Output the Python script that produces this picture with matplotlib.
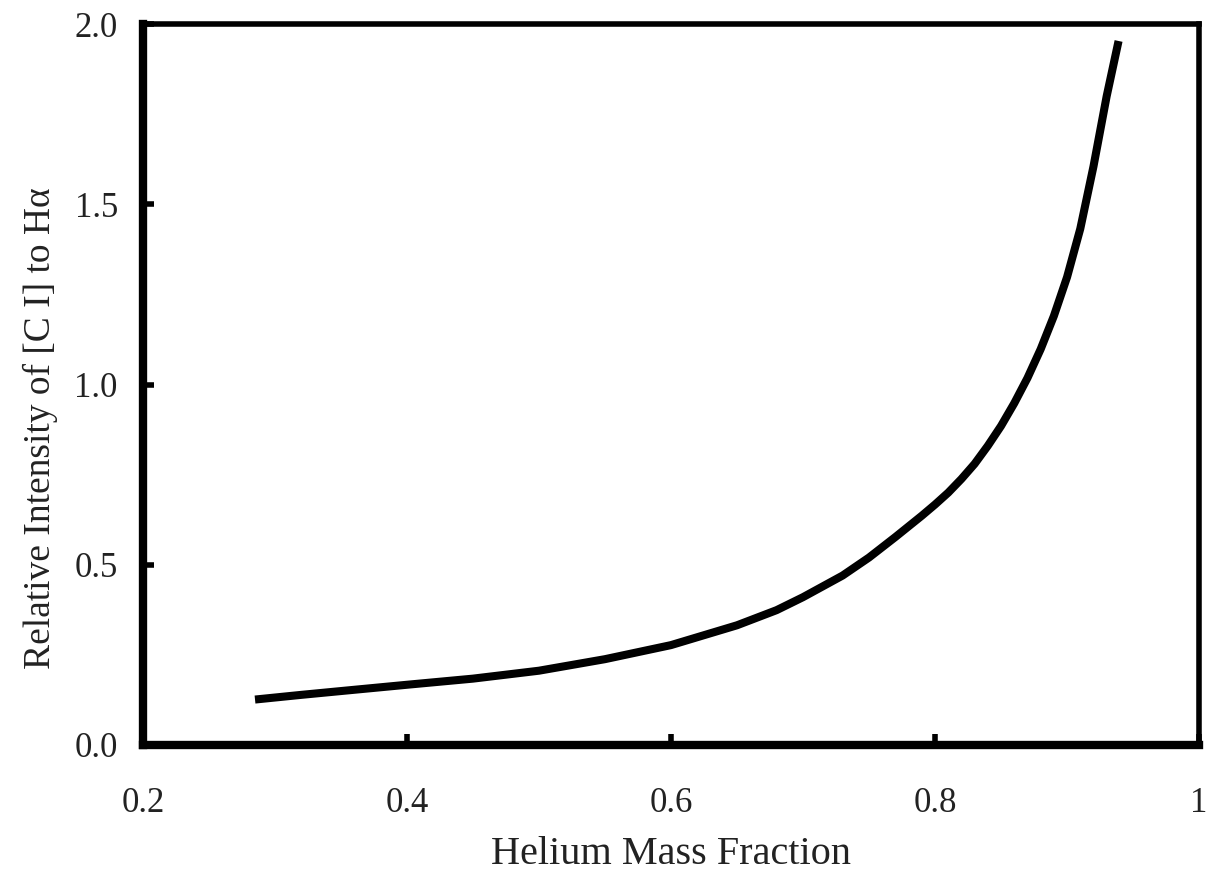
import numpy as np
import matplotlib
matplotlib.use("Agg")
import matplotlib.pyplot as plt

# values
helium_fraction = [0.285, 0.32, 0.357, 0.40, 0.45, 0.50, 0.55, 0.60, 0.65, 0.68,
                   0.70, 0.73, 0.75, 0.77, 0.79, 0.80, 0.81, 0.82, 0.83, 0.84,
                   0.85, 0.86, 0.87, 0.88, 0.89, 0.90, 0.91, 0.92, 0.93, 0.939]
ci_to_halpha = [0.126, 0.139, 0.152, 0.167, 0.184, 0.206, 0.238, 0.277, 0.332, 0.374,
                0.410, 0.470, 0.520, 0.577, 0.636, 0.667, 0.700, 0.738, 0.780, 0.830,
                0.885, 0.948, 1.018, 1.098, 1.190, 1.298, 1.432, 1.605, 1.800, 1.953]

x_ticks = [0.2, 0.4, 0.6, 0.8, 1.0]
x_ticklabels = ['0.2', '0.4', '0.6', '0.8', '1']
y_ticks = [0.0, 0.5, 1.0, 1.5, 2.0]
y_ticklabels = ['0.0', '0.5', '1.0', '1.5', '2.0']

plt.rcParams['font.family'] = ['Liberation Serif', 'DejaVu Serif']

fig = plt.figure(figsize=(12.1, 8.71), dpi=100)
ax = fig.add_axes([0.118, 0.1447, 0.873, 0.8277])

ax.plot(helium_fraction, ci_to_halpha, color='black', lw=5.8,
        solid_capstyle='butt', solid_joinstyle='round')

ax.set_xlim(0.2, 1.0)
ax.set_ylim(0.0, 2.0)
ax.set_xticks(x_ticks)
ax.set_xticklabels(x_ticklabels)
ax.set_yticks(y_ticks)
ax.set_yticklabels(y_ticklabels)

for side in ['left', 'bottom']:
    ax.spines[side].set_linewidth(6)
for side in ['top', 'right']:
    ax.spines[side].set_linewidth(4)
for sp in ax.spines.values():
    sp.set_capstyle('projecting')

ax.tick_params(axis='both', direction='in', length=8, width=4,
               labelsize=25, colors='black', labelcolor='#222222')
ax.tick_params(axis='x', pad=30)
ax.tick_params(axis='y', pad=18)

ax.set_xlabel('Helium Mass Fraction', fontsize=29, color='#222222', labelpad=12)
ax.set_ylabel('Relative Intensity of [C I] to H\u03b1', fontsize=27,
              color='#222222')
ax.yaxis.set_label_coords(-0.08, 0.44)

fig.savefig('out.png', dpi=100, facecolor='white')
